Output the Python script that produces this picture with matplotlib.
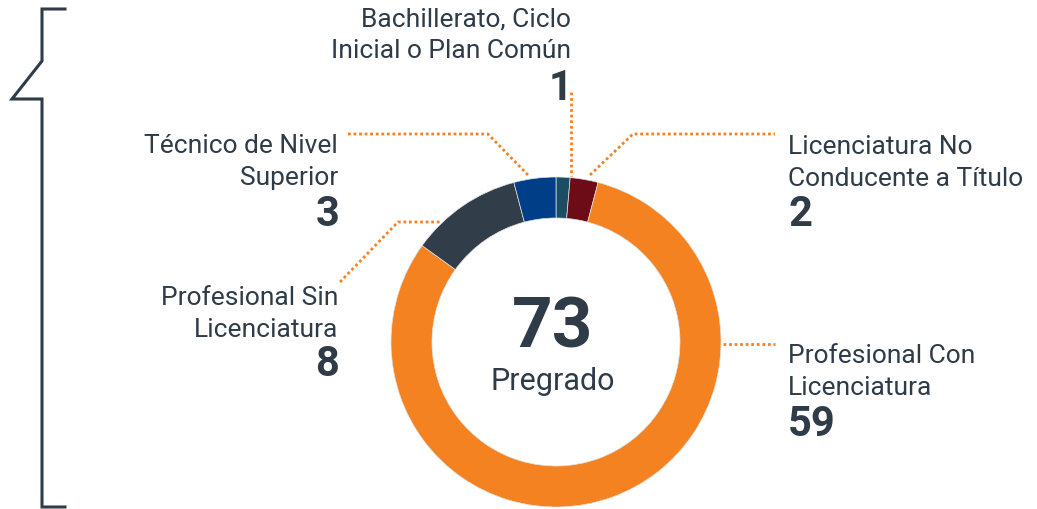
import matplotlib
matplotlib.use('Agg')
from matplotlib import pyplot as plt

plt.rcParams['font.family'] = ['Roboto', 'DejaVu Sans']

categories = ['Bachillerato, Ciclo\nInicial o Plan Común',
              'Licenciatura No\nConducente a Título',
              'Profesional Con\nLicenciatura',
              'Profesional Sin\nLicenciatura',
              'Técnico de Nivel\nSuperior']
values = [1, 2, 59, 8, 3]
colors = ['#1b4e62', '#6d0c17', '#f58220', '#313d48', '#003f87']
center_label = 'Pregrado'

TEXT = '#2f3b47'
ORANGE = '#f58220'
H = 510


def py(y):
    # convert pixel row (from top) to axis y
    return H - y


fig = plt.figure(figsize=(10.37, 5.10), dpi=100)
ax = fig.add_axes([0, 0, 1, 1])

ax.pie(values, colors=colors, startangle=90, counterclock=False,
       radius=165, center=(556, py(343)),
       wedgeprops=dict(width=41, edgecolor='#dfe3e6', linewidth=0.5))

# label blocks: (x, top of text, number baseline, alignment)
label_pos = [(571, 7, 100, 'right'),
             (788, 135, 226, 'left'),
             (788, 344, 436, 'left'),
             (338, 286, 376, 'right'),
             (338, 134, 226, 'right')]

for name, val, (x, top, base, ha) in zip(categories, values, label_pos):
    ax.text(x, py(top), name, ha=ha, va='top', multialignment=ha,
            fontsize=19, color=TEXT, linespacing=1.4)
    ax.text(x + 1 if ha == 'right' else x, py(base), str(val), ha=ha,
            va='baseline', fontsize=30, fontweight='bold', color=TEXT)

# leader lines
leaders = [[(571, 93), (571, 177)],
           [(590, 176), (633, 135), (775, 135)],
           [(723, 345), (775, 345)],
           [(340, 283), (398, 223), (440, 223)],
           [(348, 135), (488, 135), (528, 176)]]
for pts in leaders:
    xs = [p[0] for p in pts]
    ys = [py(p[1]) for p in pts]
    ax.plot(xs, ys, color=ORANGE, lw=2, linestyle=(0, (1, 1)))

ax.text(553, py(347), str(sum(values)), ha='center', va='baseline',
        fontsize=51, fontweight='bold', color=TEXT)
ax.text(553, py(390), center_label, ha='center', va='baseline',
        fontsize=22, color=TEXT)

# bracket on the left
bx = [65, 42, 42, 12, 42, 42, 65]
by = [10, 10, 62, 100, 100, 508, 508]
ax.plot(bx, [py(v) for v in by], color=TEXT, lw=2.2,
        solid_joinstyle='miter')

ax.set_xlim(0, 1037)
ax.set_ylim(0, H)
ax.set_aspect('equal')
ax.axis('off')

fig.savefig('out.png', dpi=100)
